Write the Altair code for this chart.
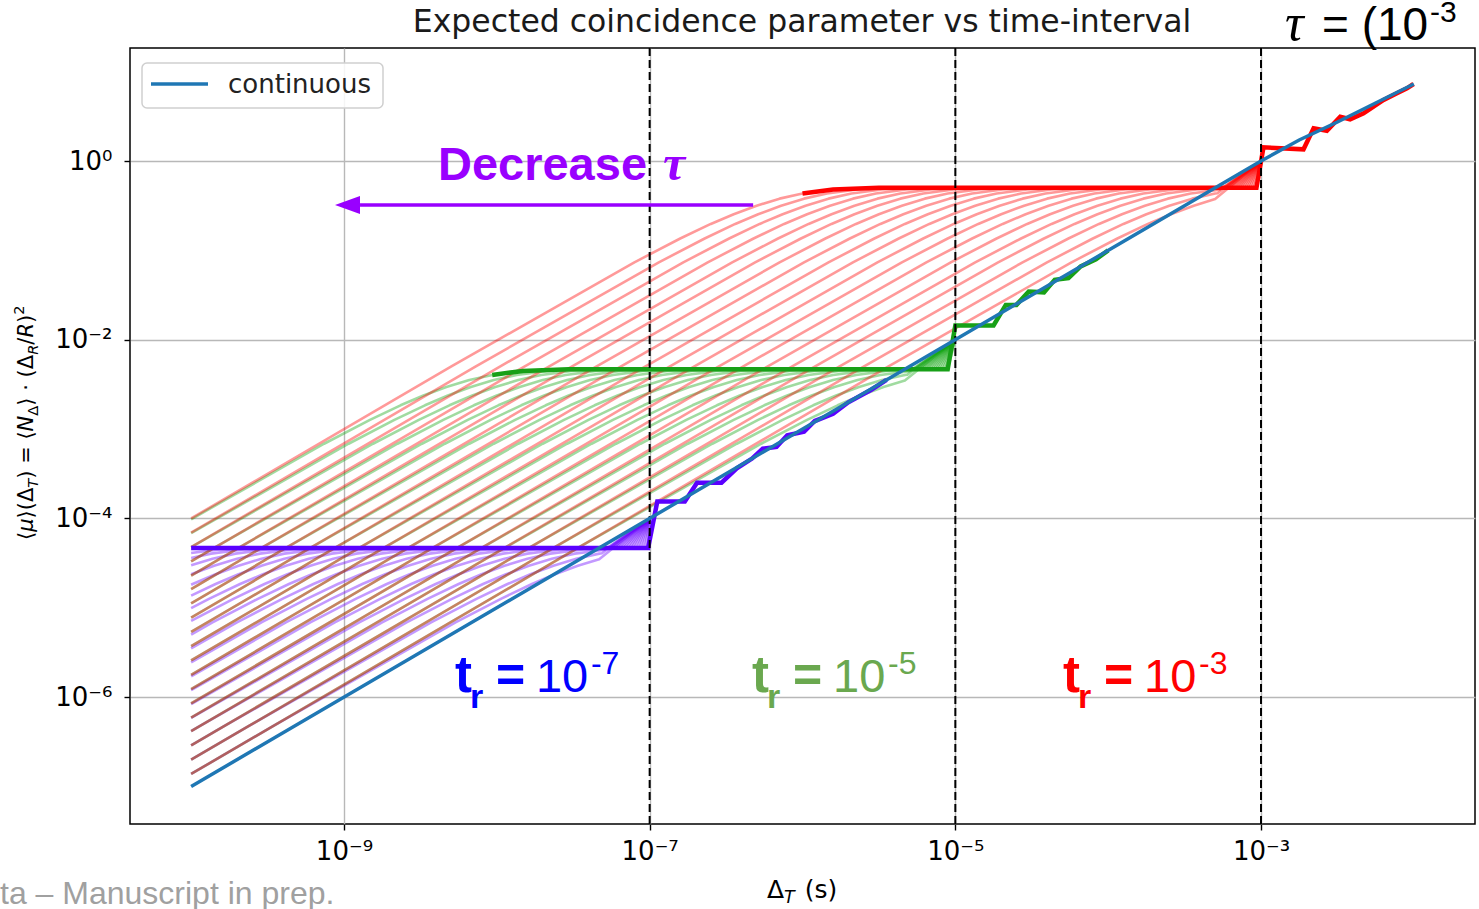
import numpy as np
import pandas as pd
import altair as alt

# ---------------- axis extents (log10 units) and ticks ----------------
LOG_DT_DOMAIN = [-10.4, -1.6]
LOG_MU_DOMAIN = [-7.42, 1.265]

X_TICKS = [1e-9, 1e-7, 1e-5, 1e-3]
X_TICK_LABELS = ["10⁻⁹", "10⁻⁷", "10⁻⁵", "10⁻³"]
Y_TICKS = [1e-6, 1e-4, 1e-2, 1e0]
Y_TICK_LABELS = ["10⁻⁶", "10⁻⁴", "10⁻²", "10⁰"]

# ---------------- continuous model ----------------
CONT_LOG_DT = [-10.0, -3.0, -2.75, -2.5, -2.25, -2.0]
CONT_LOG_MU = [-7.0, 0.0, 0.235, 0.437, 0.65, 0.862]

# ---------------- discrete model: one line per tau ----------------
START_LOG_DT = -10.0
# level of each tau line at the first time-interval (slope-1 asymptote)
TAU_START_LOG_MU = [-4.00, -4.16, -4.32, -4.48, -4.64, -4.79, -4.95, -5.11, -5.27,
                    -5.43, -5.59, -5.75, -5.91, -6.07, -6.23, -6.38, -6.54, -6.70, -6.86]

# one family per resolution time t_r
TR_LOG_DT = [-7.0, -5.0, -3.0]
PLATEAU_LOG_MU = [-4.33, -2.33, -0.30]
CROSS_LOG_DT = [-7.33, -5.33, -3.30]        # plateau meets the continuous line
APEX_LOG_MU = [-4.0, -2.0, 0.0]             # continuous value at t_r
PLATEAU_END_LOG_DT = [-7.01, -5.05, -3.03]

# rounding of each line where it bends into the plateau
KNEE_DX = [-2.0, -0.8, -0.5, -0.3, -0.15, 0.0, 0.15, 0.3, 0.5, 0.8]
KNEE_DROP = [0.0, -0.034, -0.067, -0.104, -0.145, -0.2, -0.121, -0.064, -0.019, 0.0]

# staircase above t_r (log dt, log mu)
STEP_LOG_DT = [
    [-6.95, -6.77, -6.69, -6.53, -6.43, -6.33, -6.26, -6.17, -6.10, -5.99, -5.92, -5.80, -5.70, -5.55, -5.45],
    [-5.00, -4.75, -4.67, -4.60, -4.52, -4.42, -4.35, -4.26, -4.18, -4.08, -4.00],
    [-2.984, -2.722, -2.656, -2.569, -2.482, -2.417, -2.329, -2.198, -2.111, -2.045, -2.002],
]
STEP_LOG_MU = [
    [-3.81, -3.81, -3.60, -3.60, -3.44, -3.33, -3.22, -3.20, -3.07, -3.03, -2.91, -2.83, -2.70, -2.56, -2.45],
    [-1.84, -1.84, -1.61, -1.61, -1.46, -1.47, -1.33, -1.31, -1.18, -1.10, -1.00],
    [0.153, 0.131, 0.366, 0.339, 0.496, 0.467, 0.534, 0.683, 0.758, 0.814, 0.862],
]

THIN_COLORS = ["#6a00ff", "#12a512", "#ff0000"]
THICK_COLORS = ["#5a00ff", "#17a017", "#ff0000"]
CONT_COLOR = "#1f77b4"
ANNOT_PURPLE = "#9900ff"
TR_LABEL_COLORS = ["#0000ff", "#6aa84f", "#ff0000"]
TR_LABEL_EXPONENTS = ["-7", "-5", "-3"]
TR_LABEL_LOG_DT = [-8.274, -6.330, -4.295]
TR_LABEL_LOG_MU = -5.946

SANS = "DejaVu Sans"
SLIDE = "Liberation Sans"
NARROW = "Liberation Sans Narrow, Arial Narrow, Liberation Sans"
SERIF = "Liberation Serif"

# ---------------- build the line tables ----------------
def asym(s, x, plateau):
    return min(s + (x - START_LOG_DT), plateau)


def drop(dx):
    return float(np.interp(dx, KNEE_DX, KNEE_DROP))


thin_rows = []
thick_rows = []
n = len(TAU_START_LOG_MU)
for f in range(3):
    P = PLATEAU_LOG_MU[f]
    xc = CROSS_LOG_DT[f]
    xend = PLATEAU_END_LOG_DT[f]
    for i, s in enumerate(TAU_START_LOG_MU):
        xk = P - s + START_LOG_DT
        frac = (n - 1 - i) / (n - 1)
        xj = xc + frac * (xend - xc)
        xs = [START_LOG_DT] + [xk + d for d in KNEE_DX if START_LOG_DT < xk + d < xj] + [xj]
        pts = [(x, asym(s, x, P) + drop(x - xk)) for x in xs]
        pts.append((TR_LOG_DT[f], APEX_LOG_MU[f]))
        for k, (x, y) in enumerate(pts):
            thin_rows.append({"dt": 10 ** x, "mu": 10 ** y, "line": f"{f}-{i}", "k": k, "fam": f})

    # highlighted line: the largest tau, from the plateau through the staircase
    s0 = TAU_START_LOG_MU[0]
    xk0 = P - s0 + START_LOG_DT
    x_first = xk0 + 0.3
    if x_first <= START_LOG_DT:
        pts = [(START_LOG_DT, P)]
    else:
        pts = [(x, asym(s0, x, P) + drop(x - xk0))
               for x in [xk0 + d for d in KNEE_DX] if x_first <= x < xend]
    pts.append((xend, P))
    pts += list(zip(STEP_LOG_DT[f], STEP_LOG_MU[f]))
    for k, (x, y) in enumerate(pts):
        thick_rows.append({"dt": 10 ** x, "mu": 10 ** y, "k": k, "fam": f})

thin_df = pd.DataFrame(thin_rows)
thick_df = pd.DataFrame(thick_rows)
cont_df = pd.DataFrame({"dt": [10 ** v for v in CONT_LOG_DT],
                        "mu": [10 ** v for v in CONT_LOG_MU],
                        "k": list(range(len(CONT_LOG_DT)))})
tr_df = pd.DataFrame({"dt": [10 ** v for v in TR_LOG_DT]})
ONE = pd.DataFrame({"z": [0]})

# ---------------- scales / axes ----------------
def label_expr(ticks, labels):
    expr = "''"
    for t, lab in reversed(list(zip(ticks, labels))):
        expr = f"abs(log(datum.value)/LN10 - ({np.log10(t):.0f})) < 0.01 ? '{lab}' : {expr}"
    return expr


XSCALE = alt.Scale(type="log", domain=[10 ** LOG_DT_DOMAIN[0], 10 ** LOG_DT_DOMAIN[1]], nice=False)
YSCALE = alt.Scale(type="log", domain=[10 ** LOG_MU_DOMAIN[0], 10 ** LOG_MU_DOMAIN[1]], nice=False)
AXIS_STYLE = dict(title=None, grid=True, gridColor="#b8b8b8", gridWidth=1.4, domain=False,
                  ticks=True, tickSize=6, tickWidth=1.4, tickColor="black",
                  labelFont=SANS, labelFontSize=26, labelColor="black",
                  labelOverlap=False, labelFlush=False)
XAXIS = alt.Axis(values=X_TICKS, labelExpr=label_expr(X_TICKS, X_TICK_LABELS), labelPadding=8, **AXIS_STYLE)
YAXIS = alt.Axis(values=Y_TICKS, labelExpr=label_expr(Y_TICKS, Y_TICK_LABELS), labelPadding=12, **AXIS_STYLE)


def X(field="dt"):
    return alt.X(f"{field}:Q", scale=XSCALE, axis=XAXIS)


def Y(field="mu"):
    return alt.Y(f"{field}:Q", scale=YSCALE, axis=YAXIS)


layers = []

# thin tau lines, one family per t_r
for f in range(3):
    layers.append(
        alt.Chart(thin_df[thin_df.fam == f]).mark_line(
            color=THIN_COLORS[f], strokeWidth=2.6, opacity=0.4, strokeJoin="round"
        ).encode(x=X(), y=Y(), detail="line:N", order="k:Q")
    )

# highlighted lines
for f in range(3):
    layers.append(
        alt.Chart(thick_df[thick_df.fam == f]).mark_line(
            color=THICK_COLORS[f], strokeWidth=4.5, strokeJoin="miter"
        ).encode(x=X(), y=Y(), order="k:Q")
    )

# dashed markers at each t_r
layers.append(
    alt.Chart(tr_df).mark_rule(color="black", strokeDash=[8, 4], strokeWidth=2).encode(x=X())
)

# continuous model
layers.append(
    alt.Chart(cont_df).mark_line(color=CONT_COLOR, strokeWidth=3.5).encode(x=X(), y=Y(), order="k:Q")
)


def pix_text(text, x, y, size, color="black", font=SANS, weight="normal", style="normal",
             angle=0, align="left", baseline="alphabetic"):
    return alt.Chart(ONE).mark_text(
        text=text, font=font, fontSize=size, fontWeight=weight, fontStyle=style,
        angle=angle, align=align, baseline=baseline, color=color
    ).encode(x=alt.value(x), y=alt.value(y))


def data_text(text, log_dt, log_mu, size, color, font, weight="normal", style="normal", dx=0, dy=0):
    df = pd.DataFrame({"dt": [10 ** log_dt], "mu": [10 ** log_mu]})
    return alt.Chart(df).mark_text(
        text=text, font=font, fontSize=size, fontWeight=weight, fontStyle=style,
        align="left", baseline="alphabetic", color=color, dx=dx, dy=dy
    ).encode(x=X(), y=Y())


# legend
layers.append(alt.Chart(ONE).mark_rect(fill="white", fillOpacity=0.85, stroke="#cfcfcf", strokeWidth=1.5,
                                       cornerRadius=5).encode(
    x=alt.value(12), x2=alt.value(253), y=alt.value(15), y2=alt.value(60)))
layers.append(alt.Chart(ONE).mark_rule(color=CONT_COLOR, strokeWidth=3.5).encode(
    x=alt.value(21), x2=alt.value(78), y=alt.value(36)))
layers.append(pix_text("continuous", 98, 45, 26, color="#222222"))

# "Decrease tau" arrow
arrow_df = pd.DataFrame({"dt": [10 ** -6.323], "dt2": [10 ** -8.895], "mu": [10 ** -0.4927]})
layers.append(alt.Chart(arrow_df).mark_rule(color=ANNOT_PURPLE, strokeWidth=3.5).encode(
    x=X(), x2="dt2:Q", y=Y()))
head_df = pd.DataFrame({"dt": [10 ** -8.977], "mu": [10 ** -0.4927]})
layers.append(alt.Chart(head_df).mark_point(
    shape="M-1,0L1,-0.72L1,0.72Z", size=625, filled=True, color=ANNOT_PURPLE, opacity=1, strokeWidth=0
).encode(x=X(), y=Y()))
layers.append(data_text("Decrease", -8.385, -0.2128, 47, ANNOT_PURPLE, SLIDE, weight="bold"))
layers.append(data_text("τ", -6.912, -0.2128, 50, ANNOT_PURPLE, SERIF, weight="bold", style="italic"))

# t_r labels
for f in range(3):
    c = TR_LABEL_COLORS[f]
    lx = TR_LABEL_LOG_DT[f]
    layers.append(data_text("t", lx, TR_LABEL_LOG_MU, 51, c, NARROW, weight="bold"))
    layers.append(data_text("r", lx, TR_LABEL_LOG_MU, 34, c, NARROW, weight="bold", dx=15, dy=16))
    layers.append(data_text("=", lx, TR_LABEL_LOG_MU, 50, c, NARROW, weight="bold", dx=41))
    layers.append(data_text("10", lx, TR_LABEL_LOG_MU, 47, c, NARROW, dx=81))
    layers.append(data_text(TR_LABEL_EXPONENTS[f], lx, TR_LABEL_LOG_MU, 32, c, NARROW, dx=136, dy=-18))

# title
layers.append(pix_text("Expected coincidence parameter vs time-interval", 672, -16, 31.5,
                       color="#1a1a1a", align="center"))

# tau range heading
layers.append(pix_text("τ", 1155, -8, 52, font=SERIF, style="italic"))
layers.append(pix_text("= (10", 1192, -8, 46, font=SLIDE))
layers.append(pix_text("-3", 1300, -26, 30, font=SLIDE))

# footer
layers.append(pix_text("ta – Manuscript in prep.", -130, 856, 32, color="#a0a0a0", font=SLIDE))

# x axis title: Delta_T (s)
XT_F = 25
xt0 = 637
layers.append(pix_text("Δ", xt0, 850, XT_F))
layers.append(pix_text("T", xt0 + 0.684 * XT_F, 855, 0.7 * XT_F, style="italic"))
layers.append(pix_text("(s)", xt0 + 0.684 * XT_F + 0.611 * 0.7 * XT_F + 0.318 * XT_F + 2, 850, XT_F))

# y axis title: <mu>(Delta_T) = <N_Delta> . (Delta_R/R)^2, laid out bottom to top
EM = {"⟨": 0.39, "⟩": 0.39, "μ": 0.636, "(": 0.39, ")": 0.39, "Δ": 0.684, "T": 0.611, " ": 0.318,
      "=": 0.838, "N": 0.748, "·": 0.318, "/": 0.337, "R": 0.695, "2": 0.636}
YT_F = 21
YT_X, YT_Y = -97, 492
pieces = [("⟨", 1, "normal", 0), ("μ", 1, "italic", 0), ("⟩(Δ", 1, "normal", 0),
          ("T", 0.7, "italic", 0.22), (")\u00a0=\u00a0⟨", 1, "normal", 0), ("N", 1, "italic", 0),
          ("Δ", 0.7, "normal", 0.22), ("⟩\u00a0·\u00a0(Δ", 1, "normal", 0), ("R", 0.7, "italic", 0.22),
          ("/", 1, "normal", 0), ("R", 1, "italic", 0), (")", 1, "normal", 0), ("2", 0.7, "normal", -0.42)]
pos = 0.0
for txt, scl, sty, shift in pieces:
    fs = YT_F * scl
    layers.append(pix_text(txt, YT_X + shift * YT_F, YT_Y - pos, fs, style=sty, angle=270))
    pos += sum(EM.get(ch, 0.318) for ch in txt) * fs

chart = alt.layer(*layers).properties(
    width=1345, height=776,
    padding={"left": 130, "top": 48, "right": 4, "bottom": 85},
    autosize=alt.AutoSizeParams(type="none"),
    background="white",
).configure_view(stroke="black", strokeWidth=1.5)

chart.save("out.html", embed_options={"renderer": "svg", "actions": False})
